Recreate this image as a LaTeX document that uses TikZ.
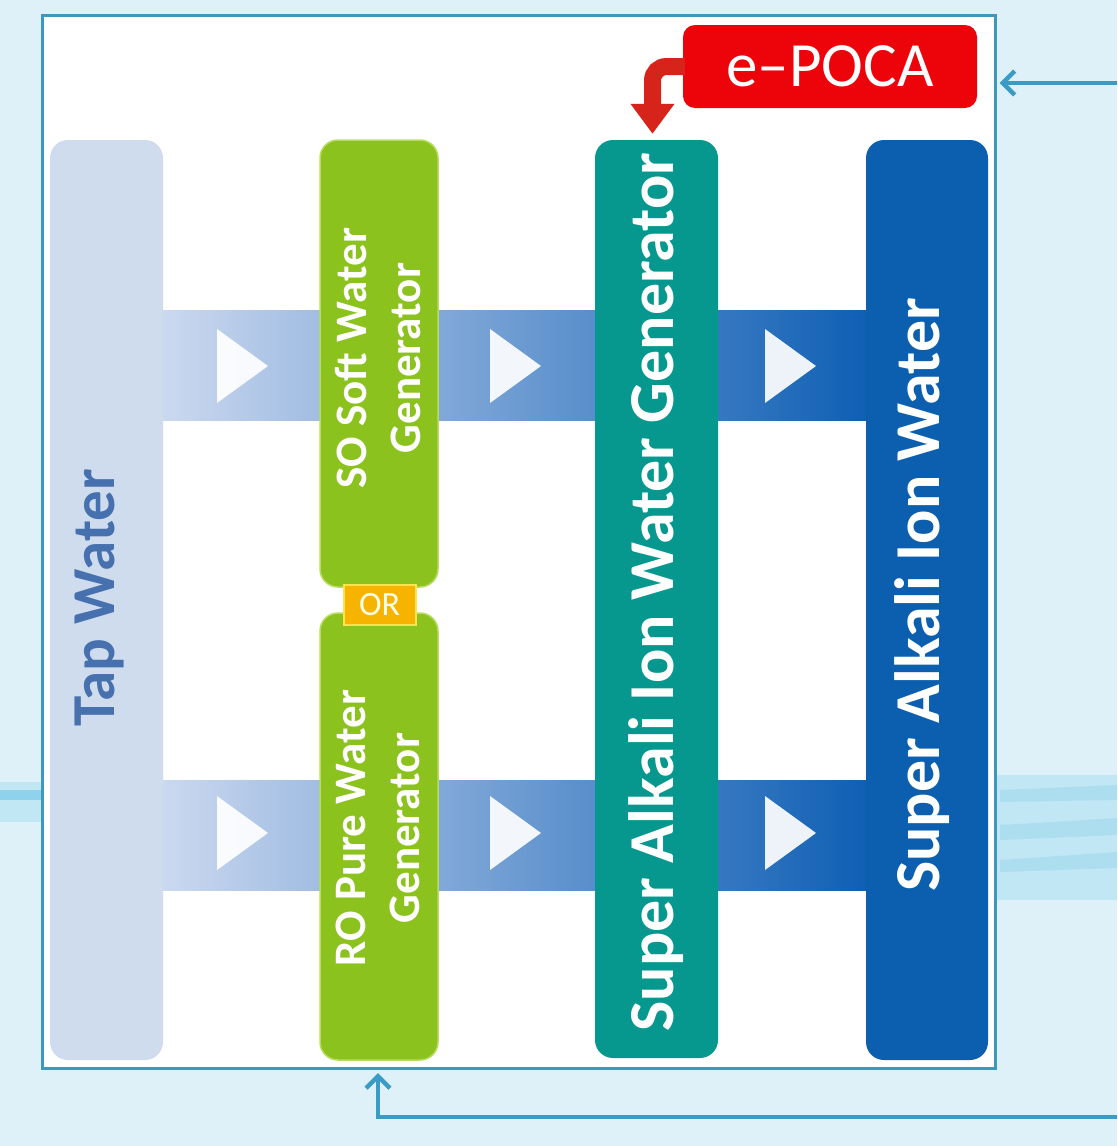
\documentclass[tikz,border=0pt]{standalone}
\usepackage{fontspec}
\setmainfont{Carlito}
\usetikzlibrary{arrows.meta}
\definecolor{bgblue}{RGB}{222,241,249}
\definecolor{framecol}{RGB}{62,152,188}
\definecolor{tapfill}{RGB}{206,220,238}
\definecolor{taptext}{RGB}{70,112,174}
\definecolor{greenfill}{RGB}{140,194,30}
\definecolor{greenedge}{RGB}{184,220,96}
\definecolor{orfill}{RGB}{246,180,0}
\definecolor{oredge}{RGB}{255,226,80}
\definecolor{tealfill}{RGB}{6,152,142}
\definecolor{bluefill}{RGB}{11,95,174}
\definecolor{bandleft}{RGB}{203,216,239}
\definecolor{bandright}{RGB}{15,95,180}
\definecolor{epocafill}{RGB}{236,4,10}
\definecolor{arrowred}{RGB}{214,36,26}
\definecolor{flowcol}{RGB}{58,156,197}
\definecolor{splash}{RGB}{110,200,230}
\tikzset{
  colbox/.style={rectangle, rounded corners=18pt, inner sep=0pt, draw=none},
  coltext/.style={rotate=90, inner sep=0pt, font=\bfseries, text=white, align=center},
  flowarrow/.style={draw=flowcol, line width=4.5pt},
  bandtri/.style={fill=white, opacity=0.92},
  streak/.style={fill=splash, opacity=0.25},
}
\begin{document}
\begin{tikzpicture}[x=1pt,y=-1pt]
\useasboundingbox (0,0) rectangle (1117,1146);
\fill[bgblue] (0,0) rectangle (1117,1146);
% splash decorations
\fill[splash, opacity=0.6] (0,790) rectangle (42,800);
\fill[streak] (0,782) rectangle (42,822);
\fill[streak] (995,775) rectangle (1117,900);
\fill[streak] (1000,790) -- (1117,785) -- (1117,800) -- (1000,802) -- cycle;
\fill[streak] (1000,825) -- (1117,818) -- (1117,835) -- (1000,840) -- cycle;
\fill[streak] (1000,860) -- (1117,852) -- (1117,868) -- (1000,872) -- cycle;
% frame
\node[rectangle, draw=framecol, fill=white, line width=3pt, minimum width=953, minimum height=1053, inner sep=0pt] (frame) at (518.5,541.5) {};
% bands
\shade[left color=bandleft, right color=bandright] (163,310) rectangle (866,420);
\shade[left color=bandleft, right color=bandright] (163,780) rectangle (866,890);
% columns
\node[colbox, fill=tapfill, minimum width=113, minimum height=920] (tap) at (106.5,600) {};
\node[colbox, fill=greenfill, draw=greenedge, line width=1.5pt, minimum width=118, minimum height=447] (so) at (379,363.5) {};
\node[colbox, fill=greenfill, draw=greenedge, line width=1.5pt, minimum width=118, minimum height=447] (ro) at (379,836.5) {};
\node[colbox, fill=tealfill, minimum width=123, minimum height=918] (gen) at (656.5,599) {};
\node[colbox, fill=bluefill, minimum width=122, minimum height=920] (out) at (927,600) {};
% triangles
\foreach \cx in {217,490,765}{
  \fill[bandtri] (\cx,329) -- (\cx+51,366) -- (\cx,403) -- cycle;
  \fill[bandtri] (\cx,796) -- (\cx+51,833) -- (\cx,870) -- cycle;
}
% OR
\node[rectangle, fill=orfill, draw=oredge, line width=2pt, minimum width=72, minimum height=40, inner sep=0pt, text=white!90!yellow, font=\fontsize{34}{34}\selectfont] (or) at (379.5,605) {OR};
% texts
\node[coltext, text=taptext, font=\fontsize{61}{61}\selectfont\bfseries] (taptxt) at (100,598) {Tap Water};
\node[coltext, font=\fontsize{45}{54}\selectfont\bfseries] (sotxt) at (378,358) {SO Soft Water\\Generator};
\node[coltext, font=\fontsize{45}{54}\selectfont\bfseries] (rotxt) at (378,828) {RO Pure Water\\Generator};
\node[coltext, font=\fontsize{64}{64}\selectfont\bfseries] (gentxt) at (656,592) {Super Alkali Ion Water Generator};
\node[coltext, font=\fontsize{64}{64}\selectfont\bfseries] (outtxt) at (922,595) {Super Alkali Ion Water};
% e-POCA
\node[rectangle, rounded corners=12pt, fill=epocafill, minimum width=294, minimum height=83, inner sep=0pt, text=white, font=\fontsize{63}{63}\selectfont] (epoca) at (830,66.5) {e–POCA};
\draw[draw=arrowred, line width=17pt, rounded corners=14pt, -{Triangle[width=42pt,length=30pt]}, shorten >=6pt] ([xshift=2pt]epoca.west) -| ([xshift=-4pt]gen.north);
% flow connectors
\coordinate (rin) at (1117,83);
\draw[flowarrow, -{Straight Barb[length=12pt,width=24pt]}] (rin) -- ([xshift=3pt]rin -| frame.east);
\coordinate (bin) at (1117,1117);
\coordinate (bend) at (378,1073);
\draw[flowarrow, -{Straight Barb[length=12pt,width=24pt]}] (bin) -| (bend);
\end{tikzpicture}
\end{document}
